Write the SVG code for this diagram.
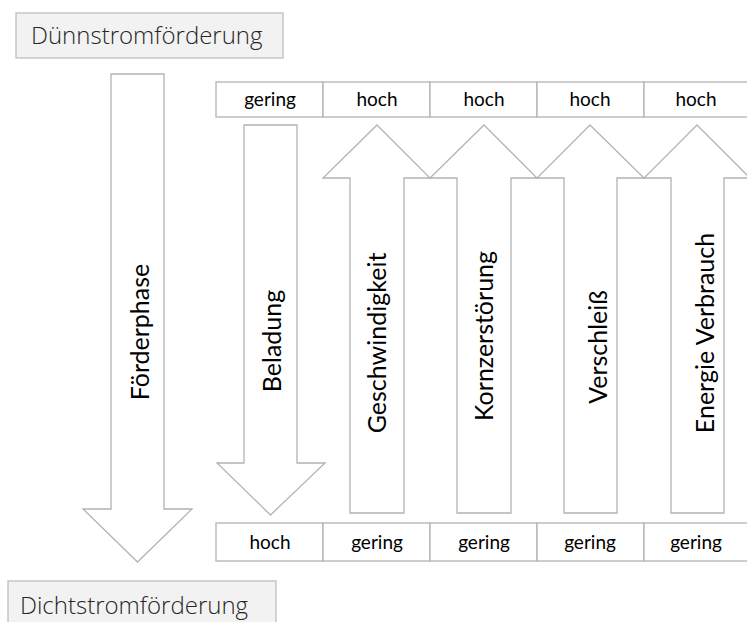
<svg xmlns="http://www.w3.org/2000/svg" width="747" height="622" viewBox="0 0 747 622">
<style>
.phase{fill:#f2f2f2;stroke:#bfbfbf;stroke-width:1.3}
.phasetxt{font-family:"Open Sans",sans-serif;font-weight:300;font-size:24px;fill:#262626}
.arr{fill:#ffffff;stroke:#b3b3b3;stroke-width:1.3;stroke-linejoin:miter}
.cell{fill:#ffffff;stroke:#b3b3b3;stroke-width:1.3}
.celltxt{font-family:Lato,"Open Sans",sans-serif;font-size:19px;fill:#000;text-anchor:middle}
.lbl{font-family:Lato,"Open Sans",sans-serif;font-size:25px;fill:#000;text-anchor:middle;dominant-baseline:central}
</style>
<rect width="747" height="622" fill="#ffffff"/>
<g id="top-phase">
<rect class="phase" x="16" y="13" width="267" height="45"/>
<text class="phasetxt" x="31" y="44">Dünnstromförderung</text>
</g>
<g id="bottom-phase">
<rect class="phase" x="8" y="581" width="268" height="50"/>
<text class="phasetxt" x="20" y="614">Dichtstromförderung</text>
</g>
<g id="connectors">
<g id="foerderphase">
<polygon class="arr" points="111,74 164,74 164,509 192,509 137.5,562 83,509 111,509"/>
<text class="lbl" transform="translate(139,332) rotate(-90)">Förderphase</text>
</g>
<g id="beladung">
<polygon class="arr" points="244,125 297,125 297,463 325,463 270.5,515 217,463 244,463"/>
<text class="lbl" transform="translate(271,341) rotate(-90)">Beladung</text>
</g>
<g id="geschwindigkeit">
<polygon class="arr" points="377,125 430,178 404,178 404,513 350,513 350,178 323,178"/>
<text class="lbl" transform="translate(376,343) rotate(-90)">Geschwindigkeit</text>
</g>
<g id="kornzerstoerung">
<polygon class="arr" points="484,125 537,178 511,178 511,513 457,513 457,178 430,178"/>
<text class="lbl" transform="translate(483,336) rotate(-90)">Kornzerstörung</text>
</g>
<g id="verschleiss">
<polygon class="arr" points="590,125 644,178 617,178 617,513 564,513 564,178 537,178"/>
<text class="lbl" transform="translate(597,347) rotate(-90)">Verschleiß</text>
</g>
<g id="energie">
<polygon class="arr" points="697,125 750,178 724,178 724,513 671,513 671,178 644,178"/>
<text class="lbl" transform="translate(704,333) rotate(-90)">Energie Verbrauch</text>
</g>
</g>
<g id="top-row">
<rect class="cell" x="216" y="82" width="107" height="35"/>
<rect class="cell" x="323" y="82" width="107" height="35"/>
<rect class="cell" x="430" y="82" width="107" height="35"/>
<rect class="cell" x="537" y="82" width="107" height="35"/>
<rect class="cell" x="644" y="82" width="120" height="35"/>
<text class="celltxt" x="270" y="106">gering</text>
<text class="celltxt" x="377" y="106">hoch</text>
<text class="celltxt" x="484" y="106">hoch</text>
<text class="celltxt" x="590" y="106">hoch</text>
<text class="celltxt" x="696" y="106">hoch</text>
</g>
<g id="bottom-row">
<rect class="cell" x="216" y="523" width="107" height="38"/>
<rect class="cell" x="323" y="523" width="107" height="38"/>
<rect class="cell" x="430" y="523" width="107" height="38"/>
<rect class="cell" x="537" y="523" width="107" height="38"/>
<rect class="cell" x="644" y="523" width="120" height="38"/>
<text class="celltxt" x="270" y="549">hoch</text>
<text class="celltxt" x="377" y="549">gering</text>
<text class="celltxt" x="484" y="549">gering</text>
<text class="celltxt" x="590" y="549">gering</text>
<text class="celltxt" x="696" y="549">gering</text>
</g>
</svg>
